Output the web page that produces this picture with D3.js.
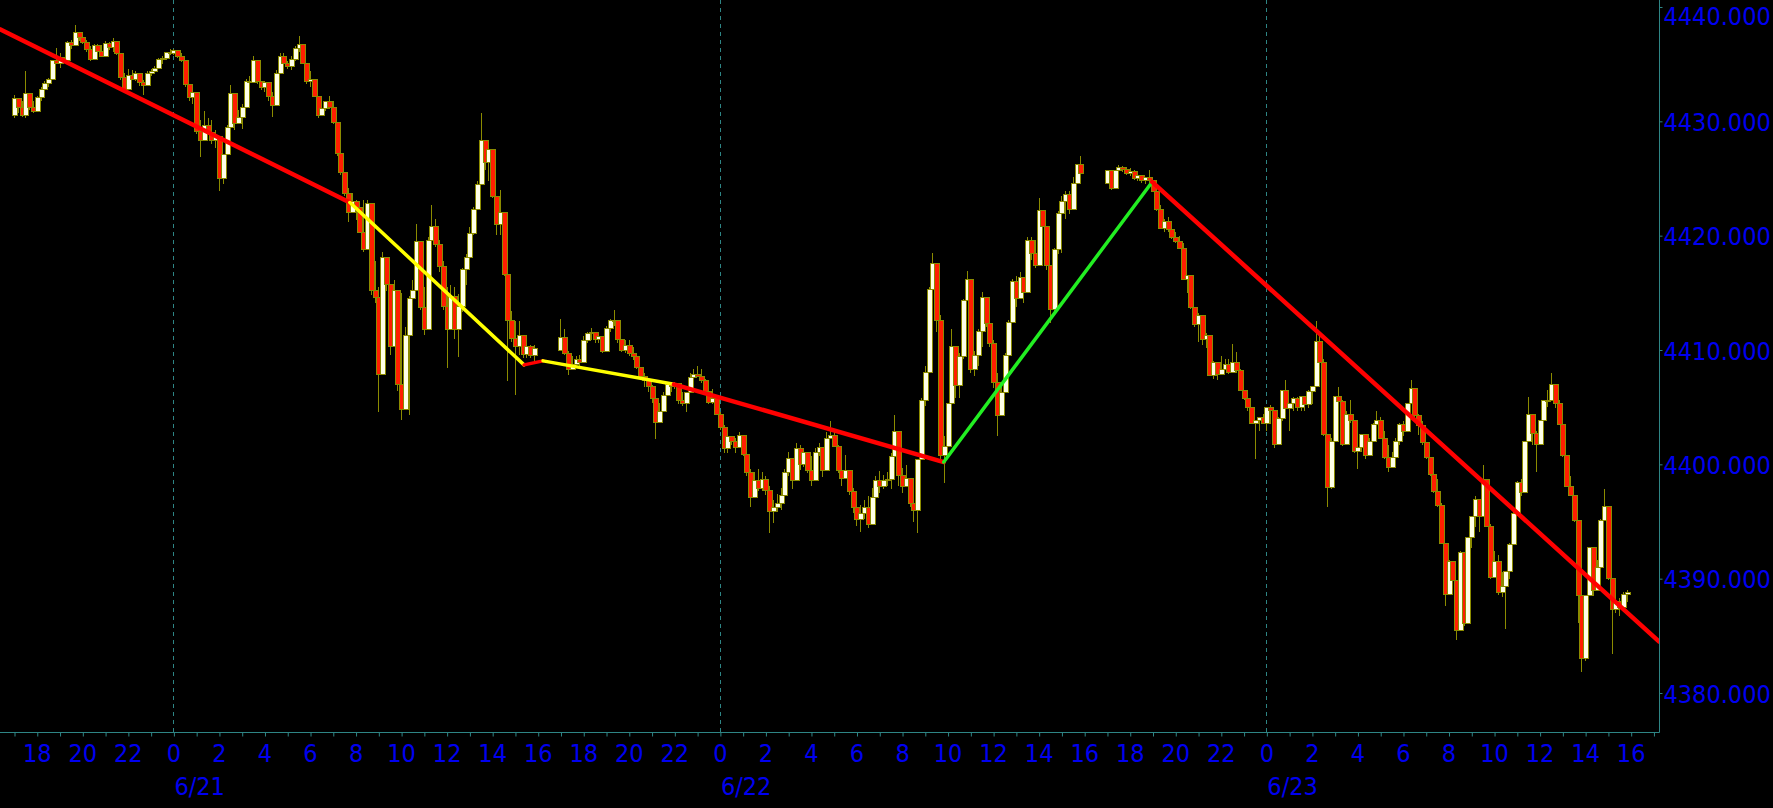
<!DOCTYPE html>
<html><head><meta charset="utf-8">
<script src="https://cdn.jsdelivr.net/npm/d3@7"></script>
<style>html,body{margin:0;padding:0;background:#000;overflow:hidden}</style>
</head><body><svg id="chart" width="1773" height="808"></svg>
<script>
// ---------------- DATA ----------------
const sessionStarts = ["2023-06-20T17:00:00", "2023-06-21T17:00:00", "2023-06-22T17:00:00"];
const sessionOpens = [4430.5, 4410.0, 4424.6];
const barMinutes = 10;

const s1Close = [
4432.0,4431.2,4430.5,4432.4,4431.2,4430.9,4432.1,4432.8,4433.3,4433.7,
4435.3,4435.1,4435.6,4435.3,4436.9,4436.6,4437.8,4437.3,4436.9,4436.3,
4435.4,4436.6,4436.1,4435.7,4436.8,4436.5,4437.0,4435.9,4433.8,4432.8,
4434.0,4433.7,4434.2,4433.4,4433.1,4434.2,4434.4,4434.6,4435.4,4435.5,
4436.0,4435.9,4436.2,4435.7,4435.3,4433.2,4432.1,4432.5,4429.1,4428.3,
4429.6,4429.0,4428.3,4428.7,4425.0,4427.1,4429.5,4432.4,4429.8,4430.3,
4431.2,4433.5,4433.4,4435.3,4433.5,4433.0,4433.4,4432.2,4431.4,4434.2,
4435.7,4435.1,4434.8,4435.4,4436.4,4436.7,4435.1,4433.5,4433.7,4432.2,
4430.5,4431.1,4431.7,4431.2,4429.9,4427.2,4425.5,4423.7,4422.0,4423.0,
4422.5,4420.3,4418.8,4422.8,4415.2,4414.6,4407.9,4418.1,4415.7,4410.3,
4415.2,4407.0,4404.8,4411.3,4414.5,4415.2,4419.5,4413.7,4411.8,4419.6,
4420.8,4419.2,4417.3,4413.8,4411.8,4414.7,4411.8,4413.8,4417.0,4418.1,
4420.2,4422.3,4424.5,4428.3,4426.4,4427.5,4423.4,4421.0,4422.0,4416.6,
4412.6,4411.0,4410.3,4411.3,4409.6,4410.3,4409.5,4410.1];
const s1High = [
4432.3,4431.8,4431.8,4434.4,4432.3,4431.8,4432.2,4433.0,4433.5,4433.8,
4435.4,4436.4,4436.0,4435.6,4437.0,4437.1,4438.4,4437.8,4437.5,4437.1,
4436.6,4436.8,4436.8,4436.7,4437.0,4436.9,4437.3,4436.7,4436.0,4434.2,
4434.6,4434.5,4434.4,4434.2,4433.6,4434.4,4434.6,4434.8,4435.5,4435.7,
4436.1,4436.3,4436.3,4436.1,4436.0,4435.2,4433.1,4433.2,4432.5,4430.1,
4430.9,4430.3,4430.1,4429.2,4428.6,4427.1,4429.7,4433.2,4431.3,4431.0,
4431.5,4433.7,4434.0,4435.7,4434.7,4433.5,4433.5,4433.0,4432.6,4434.5,
4436.0,4436.0,4435.3,4435.7,4436.6,4437.5,4436.5,4435.0,4434.4,4433.1,
4431.8,4431.5,4431.8,4432.2,4431.8,4429.6,4427.2,4425.4,4424.2,4423.7,
4423.1,4422.2,4423.1,4423.1,4420.6,4417.8,4415.5,4418.6,4418.1,4415.5,
4416.1,4412.7,4415.0,4412.0,4414.7,4416.1,4421.0,4417.8,4415.5,4419.9,
4422.7,4421.5,4419.6,4417.8,4415.5,4415.7,4415.5,4414.9,4417.2,4418.4,
4420.8,4422.5,4424.8,4430.7,4427.7,4428.3,4426.4,4423.1,4424.0,4420.4,
4416.9,4413.4,4412.5,4412.5,4411.0,4410.7,4410.4,4410.4];
const s1Low = [
4430.3,4430.7,4430.4,4430.3,4431.0,4430.7,4430.9,4431.8,4432.6,4433.0,
4433.6,4435.0,4434.7,4435.0,4435.7,4436.3,4437.1,4437.0,4436.8,4436.1,
4435.3,4435.6,4436.0,4435.6,4436.1,4436.2,4436.1,4435.8,4433.6,4432.7,
4433.6,4433.6,4433.5,4433.1,4432.3,4433.1,4434.0,4434.1,4434.6,4435.0,
4435.4,4435.8,4435.8,4435.5,4435.2,4433.0,4431.8,4431.5,4428.9,4426.9,
4428.8,4428.9,4428.0,4427.7,4423.9,4424.5,4427.4,4429.8,4429.2,4429.8,
4429.3,4431.2,4433.0,4433.9,4433.3,4432.7,4432.6,4431.8,4430.4,4432.7,
4434.5,4435.0,4434.6,4434.5,4435.3,4436.1,4435.0,4433.3,4433.0,4432.1,
4430.3,4430.6,4430.9,4431.1,4429.8,4427.0,4425.3,4423.5,4421.2,4422.4,
4421.4,4420.2,4418.6,4420.0,4414.8,4414.1,4404.6,4408.9,4415.2,4409.6,
4411.0,4406.4,4403.9,4405.0,4404.3,4413.4,4417.1,4413.5,4411.3,4414.7,
4418.4,4419.0,4416.8,4413.5,4408.4,4412.5,4411.0,4409.4,4413.3,4415.7,
4418.3,4420.1,4422.5,4425.4,4425.7,4424.8,4423.3,4420.1,4420.1,4416.5,
4407.3,4410.7,4406.1,4409.6,4409.3,4409.3,4409.3,4409.0];

const s2Close = [
4411.1,4409.7,4408.3,4408.7,4409.2,4408.9,4410.8,4411.4,4411.5,4410.9,
4411.2,4409.9,4411.9,4412.6,4412.6,4410.9,4410.0,4410.4,4409.7,4409.4,
4408.5,4407.7,4407.3,4406.8,4405.8,4403.7,4404.6,4406.0,4407.0,4406.8,
4407.1,4405.6,4405.3,4406.3,4407.6,4407.9,4407.7,4407.3,4406.4,4405.4,
4405.8,4404.4,4403.2,4401.4,4402.4,4402.0,4401.5,4402.5,4400.9,4399.3,
4397.1,4398.6,4397.9,4398.7,4397.7,4395.9,4396.2,4396.6,4397.3,4399.3,
4400.5,4398.6,4401.4,4400.0,4401.0,4399.5,4398.6,4401.0,4401.5,4399.5,
4402.3,4402.5,4401.6,4399.5,4398.8,4399.5,4397.6,4396.2,4395.2,4395.7,
4396.2,4394.7,4397.1,4398.6,4398.1,4398.6,4398.7,4400.7,4402.9,4399.0,
4398.1,4398.8,4396.6,4396.0,4400.4,4405.6,4408.0,4415.3,4417.6,4412.6,
4400.8,4401.6,4405.3,4410.3,4406.9,4409.4,4414.3,4416.2,4408.3,4409.5,
4411.6,4414.6,4412.3,4410.6,4407.2,4404.3,4406.3,4409.5,4412.4,4416.0,
4414.5,4416.3,4415.0,4419.6,4418.4,4417.4,4422.2,4420.8,4417.4,4413.5,
4418.8,4421.9,4423.0,4423.6,4422.3,4424.6,4426.2,4425.4];
const s2High = [
4412.7,4411.8,4409.9,4409.5,4409.5,4409.6,4411.2,4411.6,4411.9,4411.6,
4411.5,4411.2,4412.1,4412.7,4413.5,4412.1,4410.9,4410.9,4410.9,4410.3,
4409.7,4408.3,4408.0,4407.5,4406.9,4406.3,4405.4,4406.3,4407.2,4407.2,
4407.2,4406.9,4406.3,4406.3,4408.0,4408.3,4408.6,4408.3,4407.5,4406.9,
4406.6,4405.7,4404.6,4403.4,4402.8,4402.5,4402.3,4402.8,4402.5,4401.4,
4399.6,4399.3,4399.6,4399.3,4399.0,4398.1,4396.9,4397.4,4397.9,4399.6,
4401.1,4400.5,4401.9,4401.7,4401.4,4401.0,4400.7,4401.4,4401.9,4401.0,
4402.8,4403.8,4403.1,4401.7,4400.5,4400.8,4399.3,4397.9,4396.9,4396.4,
4396.9,4397.2,4397.9,4399.0,4399.4,4399.1,4399.3,4401.0,4404.3,4401.7,
4399.7,4399.9,4398.1,4396.9,4400.5,4405.8,4408.6,4415.5,4418.5,4416.0,
4413.1,4402.5,4405.4,4411.8,4409.5,4409.7,4414.5,4416.9,4414.4,4409.9,
4411.8,4415.1,4414.5,4412.6,4410.9,4408.0,4406.9,4409.7,4412.6,4416.2,
4416.5,4416.8,4416.2,4419.9,4419.9,4419.6,4423.3,4421.7,4420.8,4417.4,
4418.9,4422.2,4423.5,4423.9,4423.9,4425.1,4426.3,4427.0];
const s2Low = [
4409.9,4409.6,4407.8,4408.3,4408.7,4408.4,4409.2,4410.6,4410.9,4410.6,
4410.6,4409.7,4410.6,4411.6,4412.1,4410.6,4409.8,4409.7,4409.5,4409.1,
4408.3,4407.4,4406.8,4406.3,4405.4,4402.2,4403.9,4404.8,4406.0,4406.3,
4406.6,4405.3,4405.1,4404.6,4406.3,4407.5,4407.6,4407.1,4406.3,4405.3,
4405.3,4404.3,4403.0,4401.0,4401.0,4401.7,4401.0,4401.4,4400.7,4399.0,
4396.3,4397.5,4397.7,4397.7,4397.3,4394.0,4394.9,4395.8,4396.0,4397.5,
4399.0,4397.8,4400.2,4399.5,4399.8,4399.2,4398.1,4399.8,4400.7,4398.9,
4401.0,4402.5,4401.5,4399.2,4398.1,4399.2,4397.3,4395.7,4394.6,4394.1,
4395.2,4394.4,4396.1,4397.3,4397.5,4397.8,4398.1,4397.8,4401.0,4398.1,
4397.5,4398.4,4396.3,4395.0,4394.0,4400.5,4405.1,4408.0,4414.7,4411.6,
4400.2,4398.4,4401.6,4405.0,4405.8,4405.8,4409.2,4414.3,4408.0,4407.7,
4408.6,4410.3,4412.0,4410.3,4406.7,4402.5,4405.0,4406.3,4409.5,4412.4,
4413.8,4414.7,4414.1,4416.2,4417.9,4417.2,4419.6,4419.6,4417.0,4412.4,
4413.2,4418.4,4418.5,4421.5,4421.9,4423.6,4424.8,4425.2];

const s3Close = [
4425.7,4424.1,4425.7,4426.0,4425.8,4425.4,4425.6,4425.0,4425.3,4424.8,
4425.1,4424.8,4423.9,4422.3,4420.6,4421.2,4420.5,4419.8,4419.5,4418.9,
4416.2,4416.5,4413.7,4412.2,4413.0,4410.9,4411.3,4407.8,4408.9,4407.9,
4408.3,4408.7,4408.0,4408.9,4408.2,4406.5,4405.8,4405.0,4403.6,4403.8,
4404.1,4403.6,4405.0,4404.7,4401.7,4404.0,4406.5,4404.9,4405.3,4405.8,
4405.0,4405.9,4405.2,4406.4,4406.8,4410.7,4408.9,4402.6,4398.0,4402.0,
4405.9,4405.5,4401.7,4404.4,4403.8,4401.1,4401.5,4402.6,4400.8,4402.0,
4403.5,4403.8,4402.3,4400.6,4399.7,4400.6,4402.0,4403.5,4402.9,4405.3,
4406.6,4404.3,4403.4,4401.9,4400.6,4399.1,4397.6,4396.4,4393.1,4388.6,
4391.5,4389.8,4385.5,4392.3,4386.1,4393.6,4395.4,4396.9,4395.4,4398.7,
4394.6,4390.1,4391.5,4388.8,4389.3,4390.6,4393.0,4395.7,4398.4,4397.5,
4402.0,4404.4,4402.7,4401.7,4403.8,4405.6,4405.6,4407.0,4405.3,4403.5,
4400.8,4398.1,4397.3,4395.1,4388.5,4383.0,4388.5,4392.7,4389.0,4391.0,
4395.1,4396.3,4390.0,4387.3,4388.0,4387.5,4388.6,4388.8];
const s3High = [
4425.7,4425.1,4425.7,4426.2,4426.1,4426.0,4425.9,4425.7,4425.4,4425.3,
4425.1,4425.7,4424.9,4423.9,4422.7,4421.5,4421.6,4420.9,4420.3,4420.0,
4419.4,4416.6,4415.5,4413.5,4413.2,4411.6,4411.5,4410.4,4409.0,4408.6,
4409.5,4409.2,4409.2,4410.5,4409.8,4408.3,4406.5,4405.6,4404.7,4403.9,
4404.1,4404.4,4405.0,4405.2,4403.8,4404.1,4406.5,4407.4,4405.3,4405.9,
4405.9,4405.9,4405.8,4406.5,4406.8,4412.5,4411.3,4409.2,4402.6,4402.3,
4406.0,4406.8,4405.6,4404.7,4405.6,4403.5,4401.9,4402.6,4402.3,4402.3,
4403.6,4404.7,4404.1,4402.9,4401.7,4401.1,4402.3,4403.6,4403.8,4405.4,
4407.4,4406.5,4404.4,4403.8,4401.7,4400.5,4399.3,4398.7,4396.6,4393.0,
4391.6,4391.3,4389.4,4392.4,4391.5,4393.6,4395.5,4397.2,4396.3,4399.9,
4397.5,4394.8,4392.4,4392.1,4390.6,4390.7,4393.1,4395.8,4398.5,4398.7,
4402.0,4405.9,4403.8,4402.9,4403.8,4405.6,4406.5,4408.0,4406.8,4405.6,
4402.9,4400.8,4399.0,4397.2,4395.0,4388.6,4388.6,4392.8,4392.1,4391.6,
4395.2,4397.8,4396.0,4390.0,4388.6,4388.3,4388.8,4389.0];
const s3Low = [
4424.5,4424.0,4424.8,4425.4,4425.6,4425.3,4425.2,4424.9,4424.8,4424.6,
4424.5,4424.6,4423.8,4422.2,4420.6,4420.3,4420.3,4419.7,4419.4,4418.8,
4416.1,4415.0,4413.6,4412.0,4410.7,4410.4,4410.2,4407.7,4407.5,4407.4,
4408.0,4408.4,4407.9,4408.3,4408.0,4406.4,4405.6,4404.7,4403.5,4400.5,
4402.9,4403.5,4402.9,4403.5,4401.4,4402.3,4403.8,4404.7,4402.9,4404.7,
4404.7,4404.7,4404.7,4404.9,4405.3,4406.8,4408.8,4402.5,4396.3,4397.8,
4402.0,4404.4,4401.6,4402.9,4403.6,4401.0,4399.6,4401.1,4400.5,4401.4,
4402.0,4403.5,4402.2,4400.5,4399.3,4399.9,4400.6,4401.7,4402.5,4403.8,
4405.3,4404.1,4402.6,4401.7,4400.5,4399.0,4397.5,4396.3,4393.0,4387.6,
4389.1,4389.7,4384.6,4388.5,4385.9,4388.5,4392.7,4394.5,4394.1,4395.7,
4394.5,4390.0,4391.4,4388.6,4388.4,4385.6,4390.0,4393.3,4395.7,4397.2,
4399.9,4402.0,4401.7,4399.3,4401.8,4403.8,4405.0,4405.6,4404.9,4403.4,
4400.6,4398.0,4397.2,4395.0,4386.1,4381.8,4382.8,4388.5,4388.5,4389.0,
4392.1,4395.1,4389.9,4383.4,4387.0,4386.7,4387.6,4388.0];

// trend lines: [time, price] vertices
const redLine1    = [["2023-06-20T16:23:00", 4438.05], ["2023-06-21T07:45:00", 4422.9]];
const yellowLine1 = [["2023-06-21T07:45:00", 4422.9],  ["2023-06-21T15:24:00", 4408.7]];
const redLine2    = [["2023-06-21T15:24:00", 4408.7],  ["2023-06-21T16:14:00", 4409.05]];
const yellowLine2 = [["2023-06-21T16:14:00", 4409.05], ["2023-06-21T21:59:00", 4407.0]];
const redLine3    = [["2023-06-21T21:59:00", 4407.0],  ["2023-06-22T09:50:00", 4400.2]];
const greenLine   = [["2023-06-22T09:50:00", 4400.2],  ["2023-06-22T18:59:00", 4424.7]];
const redLine4    = [["2023-06-22T18:59:00", 4424.7],  ["2023-06-23T17:15:00", 4384.5]];

const yTicks = [4380, 4390, 4400, 4410, 4420, 4430, 4440];
const dateLabels = [["2023-06-21T00:00:00", "6/21"], ["2023-06-22T00:00:00", "6/22"], ["2023-06-23T00:00:00", "6/23"]];
const xDomain = ["2023-06-20T16:23:05", "2023-06-23T17:14:38"];

// ---------------- DRAW ----------------
const W = 1773, H = 808, plotR = 1659, plotB = 732;
const axisColor = "#2e8585", textColor = "#0000f0", wickColor = "#8b8b00";
const upFill = "#ffffe8", downFill = "#ff1e00";
const font = "'DejaVu Sans Condensed', 'DejaVu Sans', Verdana, sans-serif";
const fontSize = 25;

const svg = d3.select("#chart");
svg.append("rect").attr("width", W).attr("height", H).attr("fill", "#000");

const x = d3.scaleTime().domain(xDomain.map(s => new Date(s))).range([0, plotR]);
const y = d3.scaleLinear().domain([4380, 4440]).range([693, 7]);

// midnight dashed lines
svg.append("g").selectAll("line").data(dateLabels).join("line")
  .attr("x1", d => Math.round(x(new Date(d[0]))) + 0.5).attr("x2", d => Math.round(x(new Date(d[0]))) + 0.5)
  .attr("y1", 0).attr("y2", plotB)
  .attr("stroke", axisColor).attr("stroke-width", 1).attr("stroke-dasharray", "4,4");

// bars
const sessions = [[s1Close, s1High, s1Low], [s2Close, s2High, s2Low], [s3Close, s3High, s3Low]];
const bars = [];
sessions.forEach((s, si) => {
  const t0 = new Date(sessionStarts[si]);
  s[0].forEach((c, i) => {
    const o = i === 0 ? sessionOpens[si] : s[0][i - 1];
    bars.push({ t: d3.timeMinute.offset(t0, barMinutes * i), o, c, h: s[1][i], l: s[2][i] });
  });
});

const gBars = svg.append("g").attr("shape-rendering", "crispEdges");
const bar = gBars.selectAll("g").data(bars).join("g");
bar.append("line")
  .attr("x1", d => Math.round(x(d.t)) + 0.5).attr("x2", d => Math.round(x(d.t)) + 0.5)
  .attr("y1", d => y(Math.max(d.h, d.o, d.c))).attr("y2", d => y(Math.min(d.l, d.o, d.c)))
  .attr("stroke", wickColor).attr("stroke-width", 1);
bar.append("rect")
  .attr("x", d => Math.round(x(d.t)) - 2)
  .attr("width", 5)
  .attr("y", d => y(Math.max(d.o, d.c)))
  .attr("height", d => Math.max(1, Math.abs(y(d.o) - y(d.c))))
  .attr("fill", d => d.c >= d.o ? upFill : downFill)
  .attr("stroke", wickColor).attr("stroke-width", 1);

// trend lines
const lineGen = d3.line().x(d => x(new Date(d[0]))).y(d => y(d[1]));
const trends = [
  [redLine1, "#ff0000", 4.5], [yellowLine1, "#ffff00", 3.5], [redLine2, "#ff0000", 3.5],
  [yellowLine2, "#ffff00", 3.5], [redLine3, "#ff0000", 4.5], [greenLine, "#22ee22", 3.5], [redLine4, "#ff0000", 4.5]
];
const gT = svg.append("g");
trends.forEach(([pts, col, w]) => {
  gT.append("path").attr("d", lineGen(pts)).attr("fill", "none")
    .attr("stroke", col).attr("stroke-width", w).attr("stroke-linecap", "round");
});

// mask outside plot
svg.append("rect").attr("x", plotR).attr("y", 0).attr("width", W - plotR).attr("height", H).attr("fill", "#000");
svg.append("rect").attr("x", 0).attr("y", plotB).attr("width", W).attr("height", H - plotB).attr("fill", "#000");

// x axis
const hourTicks = d3.timeHour.every(1).range(x.domain()[0], x.domain()[1]);
const xAxis = d3.axisBottom(x).tickValues(hourTicks).tickSize(4).tickPadding(0)
  .tickFormat(d => d.getHours() % 2 === 0 ? String(d.getHours()) : "");
const gx = svg.append("g").attr("transform", `translate(0,${plotB + 0.5})`).call(xAxis);
gx.select(".domain").remove();
gx.selectAll(".tick line").attr("stroke", axisColor).attr("transform", "translate(0.5,0)");
gx.selectAll(".tick text").attr("fill", textColor).attr("font-family", font).attr("font-size", fontSize)
  .attr("dy", 0).attr("y", 29);
svg.append("line").attr("x1", 0).attr("x2", plotR + 0.5).attr("y1", plotB + 0.5).attr("y2", plotB + 0.5)
  .attr("stroke", axisColor);

// date labels
svg.append("g").selectAll("text").data(dateLabels).join("text")
  .attr("x", d => x(new Date(d[0])) + 1).attr("y", 795)
  .attr("fill", textColor).attr("font-family", font).attr("font-size", fontSize)
  .text(d => d[1]);

// y axis
const yAxis = d3.axisRight(y).tickValues(yTicks).tickSize(3).tickPadding(1).tickFormat(d3.format(".3f"));
const gy = svg.append("g").attr("transform", `translate(${plotR + 0.5},0)`).call(yAxis);
gy.select(".domain").remove();
gy.selectAll(".tick line").attr("stroke", axisColor);
gy.selectAll(".tick text").attr("fill", textColor).attr("font-family", font).attr("font-size", fontSize)
  .attr("dy", d => d === 4440 ? "0.68em" : "0.36em");
svg.append("line").attr("x1", plotR + 0.5).attr("x2", plotR + 0.5).attr("y1", 0).attr("y2", plotB + 0.5)
  .attr("stroke", axisColor);
</script></body></html>
